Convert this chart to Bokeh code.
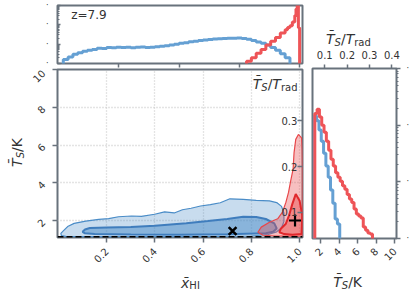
from math import pi
from bokeh.plotting import figure
from bokeh.models import Range1d, LinearAxis, FixedTicker, Label, Span, PrintfTickFormatter
from bokeh.layouts import row, column
from bokeh.embed import file_html
from bokeh.resources import INLINE

REDSHIFT = 7.9
T_RAD = 2.725 * (1 + REDSHIFT)
T_FLOOR = 1.13

# ---- top histogram: x_HI (log counts) ----
blue_xhi_edges = [0.02, 0.04, 0.06, 0.08, 0.10, 0.12, 0.14, 0.16, 0.18, 0.20, 0.22, 0.24,
                  0.26, 0.28, 0.30, 0.32, 0.34, 0.36, 0.38, 0.40, 0.42, 0.44, 0.46, 0.48,
                  0.50, 0.52, 0.54, 0.56, 0.58, 0.60, 0.62, 0.64, 0.66, 0.68, 0.70, 0.72,
                  0.74, 0.76, 0.78, 0.80, 0.82, 0.84, 0.86, 0.88, 0.90, 0.92, 0.94, 0.96]
blue_xhi_counts = [1.6, 2.2, 3.0, 3.6, 4.3, 4.8, 5.3, 6.2, 6.0, 6.8, 6.6, 7.0,
                   6.8, 6.9, 6.6, 6.9, 7.2, 6.8, 7.0, 7.4, 7.8, 8.2, 9.0, 9.8,
                   11.0, 12.0, 13.5, 14.2, 15.5, 16.5, 17.2, 18.5, 19.0, 19.8, 20.5, 20.0,
                   20.6, 19.6, 18.0, 15.5, 13.0, 11.0, 9.0, 6.8, 4.8, 3.2, 2.0]
red_xhi_edges = [0.78, 0.80, 0.82, 0.84, 0.86, 0.88, 0.90, 0.92, 0.94, 0.95, 0.96, 0.97,
                 0.98, 0.985, 0.99, 0.995, 1.0]
red_xhi_counts = [1.3, 2.0, 3.4, 5.3, 9.0, 14, 22, 38, 55, 72, 90, 140, 300, 650, 1500, 70]

# ---- right histogram: T_S (log counts) ----
blue_ts_edges = [1.30, 1.55, 1.80, 2.05, 2.30, 2.55, 2.80, 3.05, 3.30, 3.55, 3.80, 4.05]
blue_ts_counts = [145, 120, 82, 52, 32, 19, 12, 7.2, 4.2, 2.2, 1.8]
red_ts_edges = [1.35, 1.60, 1.85, 2.10, 2.35, 2.60, 2.85, 3.10, 3.35, 3.60, 3.85, 4.10, 4.35,
                4.60, 4.85, 5.10, 5.35, 5.60, 5.85, 6.10, 6.35, 6.60, 6.85, 7.10, 7.35, 7.60]
red_ts_counts = [160, 190, 140, 100, 75, 52, 36, 25, 19, 14.5, 12, 10.2, 8.5,
                 7.4, 6.0, 5.0, 4.3, 3.3, 2.7, 2.5, 2.3, 1.6, 1.4, 1.25, 1.2]

# ---- 2D credible contours (x_HI, T_S) ----
blue_outer_x = [0.012, 0.010, 0.020, 0.038, 0.065, 0.113, 0.167, 0.208, 0.249, 0.303, 0.344, 0.399,
                0.440, 0.480, 0.514, 0.550, 0.589, 0.630, 0.671, 0.711, 0.766, 0.820, 0.875, 0.905,
                0.925, 0.935, 0.935, 0.925, 0.905, 0.870, 0.800, 0.600, 0.300, 0.100, 0.030]
blue_outer_T = [1.20, 1.32, 1.45, 1.68, 1.85, 1.97, 2.06, 2.10, 2.20, 2.24, 2.22, 2.33,
                2.46, 2.40, 2.57, 2.65, 2.77, 2.84, 2.94, 3.15, 3.12, 3.07, 3.04, 2.95,
                2.75, 2.40, 1.95, 1.60, 1.40, 1.26, 1.18, 1.15, 1.15, 1.15, 1.16]
blue_inner_x = [0.100, 0.110, 0.130, 0.200, 0.300, 0.400, 0.530, 0.620, 0.700, 0.766, 0.820,
                0.860, 0.895, 0.905, 0.890, 0.860, 0.700, 0.500, 0.300, 0.150, 0.110]
blue_inner_T = [1.40, 1.52, 1.60, 1.63, 1.66, 1.72, 1.85, 1.97, 2.08, 2.20, 2.19,
                2.08, 1.85, 1.58, 1.40, 1.32, 1.27, 1.25, 1.26, 1.28, 1.32]
red_outer_x = [0.995, 0.984, 0.977, 0.973, 0.963, 0.954, 0.943, 0.929, 0.909, 0.875, 0.841,
               0.827, 0.848, 0.900, 0.960, 1.012, 1.012, 1.011, 1.008]
red_outer_T = [6.56, 6.30, 5.60, 4.72, 4.10, 3.49, 2.96, 2.44, 2.09, 1.91, 1.65,
               1.38, 1.22, 1.18, 1.17, 1.17, 5.00, 5.77, 6.38]
red_inner_x = [0.984, 0.970, 0.956, 0.943, 0.922, 0.916, 0.936, 0.970, 1.008, 1.011, 1.000]
red_inner_T = [3.40, 2.88, 2.26, 1.83, 1.56, 1.38, 1.28, 1.25, 1.28, 2.26, 3.05]

cross_x, cross_T = [0.722], [1.44]
plus_x, plus_T = [0.981], [2.0]

xhi_ticks = [0.2, 0.4, 0.6, 0.8, 1.0]
xhi_top_ticks = [0.25, 0.5, 0.75, 1.0]
ts_ticks = [2, 4, 6, 8, 10]
ratio_main_ticks = [0.1, 0.2, 0.3]
ratio_side_ticks = [0.1, 0.2, 0.3, 0.4]
count_ticks = [1, 10, 100, 1000]
count_minor = [2, 3, 4, 5, 6, 7, 8, 9, 20, 30, 40, 50, 60, 70, 80, 90,
               200, 300, 400, 500, 600, 700, 800, 900]

BLUE = "#65a0d3"
RED = "#ee5457"
CBLUE = "#4a8cc7"
CRED = "#e8474a"
FRAME = "#68727c"
TXT = "#333333"
FONT = "DejaVu Sans"

CW = {'T': 0.611, 'S': 0.635, 'K': 0.656, 'x': 0.592, '/': 0.337, 'H': 0.752,
      'I': 0.295, 'r': 0.411, 'a': 0.613, 'd': 0.635}

TS_LABEL = [("T\u0304", 14, "italic", 0), ("S", 10, "italic", -3.5), ("/K", 14, "normal", 0)]
RATIO_LABEL = [("T\u0304", 14, "italic", 0), ("S", 10, "italic", -3.5), ("/", 14, "normal", 0),
               ("T", 14, "italic", 0), ("rad", 10, "normal", -3.5)]
XHI_LABEL = [("x\u0304", 14, "italic", 0), ("HI", 10, "normal", -3.2)]


def tw(s, size):
    return sum(CW.get(ch, 0.0) for ch in s) * size


def math_label(fig, x, y, parts, x_off=0, y_off=0, align="center", angle=0.0):
    total = sum(tw(t, s) for t, s, _, _ in parts)
    cum = {"center": -total / 2, "left": 0, "right": -total}[align]
    for text, size, style, shift in parts:
        if angle == 0:
            xo, yo = x_off + cum, y_off + shift
        else:
            xo, yo = x_off - shift, y_off + cum
        fig.add_layout(Label(x=x, y=y, text=text, x_offset=xo, y_offset=yo, angle=angle,
                             text_font=FONT, text_font_size=f"{size}px", text_font_style=style,
                             text_color=TXT, text_align="left", text_baseline="alphabetic"))
        cum += tw(text, size)


def step_path(edges, counts, base=0.5):
    xs, ys = [edges[0]], [base]
    for i, c in enumerate(counts):
        xs += [edges[i], edges[i + 1]]
        ys += [c, c]
    xs.append(edges[-1])
    ys.append(base)
    return xs, ys


def style_frame(fig):
    fig.outline_line_color = FRAME
    fig.outline_line_width = 2
    fig.background_fill_color = "white"
    fig.border_fill_color = "white"


def style_axis(ax, tick_out=5, tick_in=0, size="10px"):
    ax.axis_line_color = None
    ax.major_tick_line_color = FRAME
    ax.major_tick_line_width = 1.5
    ax.minor_tick_line_color = FRAME
    ax.major_tick_out = tick_out
    ax.major_tick_in = tick_in
    ax.major_label_text_font = FONT
    ax.major_label_text_font_size = size
    ax.major_label_text_color = TXT


def strip(w, h):
    f = figure(width=w, height=h, x_range=Range1d(0, w), y_range=Range1d(0, h),
               min_border=0, toolbar_location=None, output_backend="svg")
    f.axis.visible = False
    f.grid.visible = False
    f.outline_line_color = None
    return f


X_RANGE = (-0.004, 1.012)
Y_RANGE = (1.1, 10.0)
TS_RANGE = (1.1, 10.2)
YLAB_W = 25
LEFT_W = 281
SIDE_W = 110

# ================= top histogram =================
top = figure(width=LEFT_W, height=68, x_range=Range1d(*X_RANGE), y_range=Range1d(1, 1000),
             y_axis_type="log", output_backend="svg", toolbar_location=None,
             min_border_left=28, min_border_right=4, min_border_top=5, min_border_bottom=5)
style_frame(top)
top.xgrid.visible = False
top.ygrid.visible = False
bx, by = step_path(blue_xhi_edges, blue_xhi_counts)
rx, ry = step_path(red_xhi_edges, red_xhi_counts)
top.line(bx, by, line_color=BLUE, line_width=3)
top.line(rx, ry, line_color=RED, line_width=3)
xa = top.xaxis[0]
xa.ticker = FixedTicker(ticks=xhi_top_ticks)
style_axis(xa, tick_out=4, size="1px")
xa.minor_tick_line_color = None
xa.major_label_text_color = None
xa.major_label_standoff = 0
ya = top.yaxis[0]
ya.ticker = FixedTicker(ticks=count_ticks, minor_ticks=count_minor)
style_axis(ya, tick_out=0, tick_in=3, size="8px")
ya.minor_tick_in = 2
ya.minor_tick_out = 0
ya.major_label_overrides = {1: "·", 10: "·", 100: "·", 1000: "·"}
ya.major_label_standoff = 9
top.add_layout(Label(x=0.053, y=1000, text=f"z={REDSHIFT}", y_offset=-2, text_font=FONT,
                     text_font_size="12px", text_color=TXT, text_baseline="top"))

# ================= main 2D panel =================
main = figure(width=LEFT_W, height=202, x_range=Range1d(*X_RANGE), y_range=Range1d(*Y_RANGE),
              output_backend="svg", toolbar_location=None,
              min_border_left=28, min_border_right=4, min_border_top=1, min_border_bottom=33)
style_frame(main)
main.extra_y_ranges = {"ratio": Range1d(Y_RANGE[0] / T_RAD, Y_RANGE[1] / T_RAD)}
main.xgrid.grid_line_color = "#c9c9c9"
main.ygrid.grid_line_color = "#c9c9c9"
main.xgrid.grid_line_dash = "1 2"
main.ygrid.grid_line_dash = "1 2"
main.xgrid.grid_line_width = 1.3
main.ygrid.grid_line_width = 1.3

main.patch(blue_outer_x, blue_outer_T, fill_color=CBLUE, fill_alpha=0.3,
           line_color=CBLUE, line_width=1.2)
main.patch(blue_inner_x, blue_inner_T, fill_color=CBLUE, fill_alpha=0.5,
           line_color="#3f7dbd", line_width=2)
main.patch(red_outer_x, red_outer_T, fill_color=CRED, fill_alpha=0.35,
           line_color=CRED, line_width=1.2)
main.patch(red_inner_x, red_inner_T, fill_color=CRED, fill_alpha=0.45,
           line_color="#e0282c", line_width=2)
main.add_layout(Span(location=T_FLOOR, dimension="width", line_color="black",
                     line_dash="6 3", line_width=2))
main.scatter(cross_x, cross_T, marker="x", size=11, line_color="black", line_width=2.5)
main.scatter(plus_x, plus_T, marker="cross", size=12, line_color="black", line_width=2.2)

mx = main.xaxis[0]
mx.ticker = FixedTicker(ticks=xhi_ticks)
mx.formatter = PrintfTickFormatter(format="%.1f")
style_axis(mx, tick_out=5)
mx.major_label_orientation = pi / 4
mx.major_label_standoff = 7
my = main.yaxis[0]
my.ticker = FixedTicker(ticks=ts_ticks)
style_axis(my, tick_out=5)
my.major_label_orientation = pi / 4
my.major_label_standoff = 9
rax = LinearAxis(y_range_name="ratio", ticker=FixedTicker(ticks=ratio_main_ticks))
style_axis(rax, tick_out=0, tick_in=5)
rax.minor_tick_line_color = None
rax.major_label_standoff = -21
main.add_layout(rax, "right")
math_label(main, X_RANGE[1], Y_RANGE[1], RATIO_LABEL, x_off=-5, y_off=-14, align="right")

# axis-title strips (kept as real SVG text)
ylab = strip(YLAB_W, 293)
math_label(ylab, 16, 141, TS_LABEL, angle=pi / 2)
xlab = strip(LEFT_W, 23)
math_label(xlab, 152.5, 11, XHI_LABEL)

# ================= right histogram =================
side = figure(width=SIDE_W, height=224, x_range=Range1d(*TS_RANGE), y_range=Range1d(1, 1000),
              y_axis_type="log", y_axis_location="right", output_backend="svg",
              toolbar_location=None, min_border_left=6, min_border_right=20,
              min_border_top=22, min_border_bottom=32)
style_frame(side)
side.xgrid.visible = False
side.ygrid.visible = False
side.extra_x_ranges = {"ratio": Range1d(TS_RANGE[0] / T_RAD, TS_RANGE[1] / T_RAD)}
sbx, sby = step_path(blue_ts_edges, blue_ts_counts)
srx, sry = step_path(red_ts_edges, red_ts_counts)
side.line(sbx, sby, line_color=BLUE, line_width=3)
side.line(srx, sry, line_color=RED, line_width=3)
sx = side.xaxis[0]
sx.ticker = FixedTicker(ticks=ts_ticks)
style_axis(sx, tick_out=5)
sx.minor_tick_line_color = None
sx.major_label_orientation = pi / 4
sx.major_label_standoff = 6
sy = side.yaxis[0]
sy.ticker = FixedTicker(ticks=count_ticks, minor_ticks=count_minor)
style_axis(sy, tick_out=4, size="8px")
sy.minor_tick_out = 2
sy.minor_tick_in = 0
sy.major_label_overrides = {1: "·", 10: "·", 100: "·", 1000: "·"}
sy.major_label_standoff = 6
tax = LinearAxis(x_range_name="ratio", ticker=FixedTicker(ticks=ratio_side_ticks))
style_axis(tax, tick_out=4)
tax.minor_tick_line_color = None
tax.major_label_standoff = 6
side.add_layout(tax, "above")

side_title = strip(SIDE_W, 46)
math_label(side_title, 47, 8, RATIO_LABEL)
side_xlab = strip(SIDE_W, 23)
math_label(side_xlab, 46, 12, TS_LABEL)

layout = row(ylab, column(top, main, xlab), column(side_title, side, side_xlab))
open("out.html", "w").write(file_html(layout, INLINE))
